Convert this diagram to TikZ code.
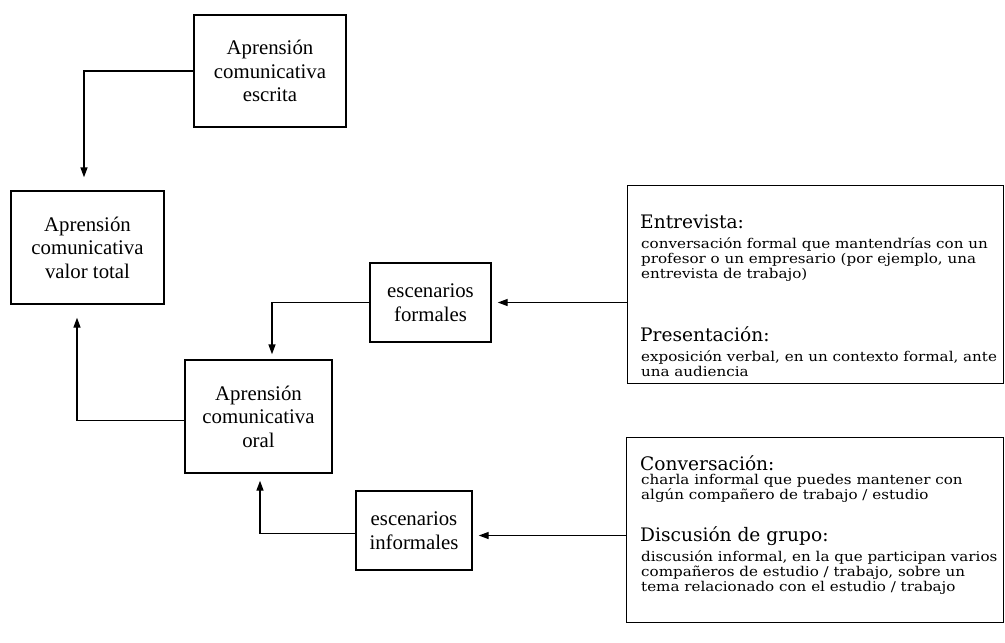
\documentclass[tikz,border=0pt]{standalone}
\usepackage{fontspec}
\setmainfont{Liberation Serif}
\newfontfamily\descfont[FakeStretch=1.12]{DejaVu Serif}
\newfontfamily\headfont{DejaVu Serif}
\usetikzlibrary{arrows.meta}
\begin{document}
\begin{tikzpicture}[x=1pt,y=-1pt,
  mainbox/.style={draw, line width=1.4pt, align=center, inner sep=0pt,
    font=\fontsize{20.8}{23.5}\selectfont},
  infobox/.style={draw, line width=1.4pt, inner sep=0pt, anchor=north west},
  headtext/.style={anchor=base west, inner sep=0pt, font=\headfont\fontsize{18.6}{20}\selectfont},
  bodytext/.style={anchor=base west, inner sep=0pt, align=left, font=\descfont\fontsize{13.5}{14.6}\selectfont},
  conn/.style={-{Triangle[length=10pt,width=7pt]}, line width=1.4pt}]
\useasboundingbox (0,0) rectangle (1005,643);

\node[mainbox, minimum width=152, minimum height=112] (escrita) at (270,71) {Aprensión\\comunicativa\\escrita};
\node[mainbox, minimum width=153, minimum height=113] (valor) at (87.5,247.5) {Aprensión\\comunicativa\\valor total};
\node[mainbox, minimum width=147, minimum height=113] (oral) at (258.5,416.5) {Aprensión\\comunicativa\\oral};
\node[mainbox, minimum width=121, minimum height=79] (formales) at (430.5,302.5) {escenarios\\formales};
\node[mainbox, minimum width=116, minimum height=79] (informales) at (414,530.5) {escenarios\\informales};

\node[infobox, minimum width=376, minimum height=198] (box1) at (627,185) {};
\node[infobox, minimum width=377, minimum height=185] (box2) at (626,437) {};

\node[headtext] (h1) at (640,228) {Entrevista:};
\node[bodytext] (b1) at (641,278) {conversación formal que mantendrías con un\\profesor o un empresario (por ejemplo, una\\entrevista de trabajo)};
\node[headtext] (h2) at (640,341) {Presentación:};
\node[bodytext] (b2) at (641,376) {exposición verbal, en un contexto formal, ante\\una audiencia};
\node[headtext] (h3) at (640,470) {Conversación:};
\node[bodytext] (b3) at (641,499) {charla informal que puedes mantener con\\algún compañero de trabajo / estudio};
\node[headtext] (h4) at (640,541) {Discusión de grupo:};
\node[bodytext] (b4) at (641,591) {discusión informal, en la que participan varios\\compañeros de estudio / trabajo, sobre un\\tema relacionado con el estudio / trabajo};

\coordinate (valtop) at ([xshift=-3.5pt]valor.north);
\coordinate (valbot) at ([xshift=-10.5pt]valor.south);
\coordinate (oraltop) at ([xshift=13.5pt]oral.north);
\coordinate (oralbot) at ([xshift=1.5pt]oral.south);

\draw[conn, shorten >=13pt] (escrita.west) -| (valtop);
\draw[conn, shorten >=5pt] (formales.west) -| (oraltop);
\draw[conn, shorten >=13pt] ([yshift=-4pt]oral.west) -| (valbot);
\draw[conn, shorten >=7pt] ([yshift=-3pt]informales.west) -| (oralbot);
\draw[conn, shorten >=6pt] (formales.east -| box1.west) -- (formales.east);
\draw[conn, shorten >=6pt] ([yshift=-5pt]informales.east -| box2.west) -- ([yshift=-5pt]informales.east);
\end{tikzpicture}
\end{document}
